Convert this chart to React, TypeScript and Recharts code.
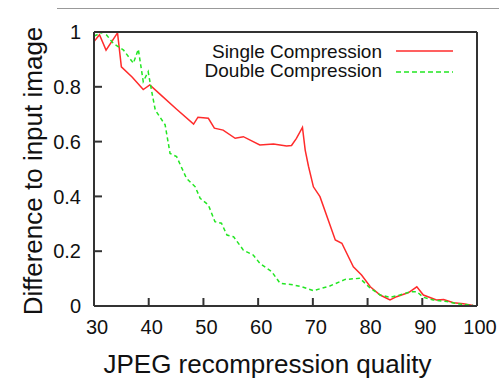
import React from "react";
import { LineChart, Line, XAxis, YAxis, Legend } from "recharts";

const singleQ = [30, 31, 32.2, 34.3, 35, 37, 39, 40.2, 42, 45, 48.2, 49, 50.9, 52, 53.6, 55.8, 57.3, 60.3, 62.8, 65.2, 66.1, 67, 68.1, 68.6, 69.2, 70.1, 71.3, 74.1, 75.3, 77.4, 78.9, 80.5, 82.3, 84.1, 85.3, 87.5, 89, 90.2, 92.6, 93.9, 95.7, 97.5, 99.3];
const singleV = [0.965, 0.99, 0.934, 0.997, 0.873, 0.835, 0.79, 0.807, 0.774, 0.72, 0.664, 0.689, 0.685, 0.649, 0.642, 0.612, 0.618, 0.588, 0.591, 0.584, 0.586, 0.612, 0.652, 0.569, 0.51, 0.435, 0.399, 0.241, 0.229, 0.143, 0.113, 0.07, 0.04, 0.022, 0.034, 0.049, 0.07, 0.04, 0.022, 0.024, 0.012, 0.008, 0.002];

const doubleQ = [30, 31.7, 32.3, 33.5, 35.4, 37.2, 38.1, 39, 39.9, 40.5, 41.2, 43, 43.9, 45.1, 46.9, 48.5, 49.4, 50.9, 52.1, 53.3, 54.3, 55.5, 57.3, 59.1, 60.3, 62.5, 64, 66.4, 68, 70.1, 73.1, 75.9, 78.6, 80.5, 82.3, 84.1, 85.9, 87.8, 89, 90.2, 92, 94.5, 96.9, 99.3];
const doubleV = [0.985, 1.0, 0.989, 0.959, 0.934, 0.886, 0.937, 0.819, 0.855, 0.788, 0.715, 0.661, 0.557, 0.545, 0.466, 0.435, 0.393, 0.369, 0.308, 0.302, 0.259, 0.253, 0.204, 0.186, 0.156, 0.125, 0.083, 0.077, 0.07, 0.056, 0.073, 0.097, 0.101, 0.065, 0.04, 0.032, 0.04, 0.052, 0.052, 0.032, 0.022, 0.016, 0.007, 0.002];

const xTicks = [30, 40, 50, 60, 70, 80, 90, 100];
const yTicks = [0, 0.2, 0.4, 0.6, 0.8, 1];

const singleData = singleQ.map((q, i) => ({ q, v: singleV[i] }));
const doubleData = doubleQ.map((q, i) => ({ q, v: doubleV[i] }));

const font = "'Liberation Sans', Arial, Helvetica, sans-serif";
const frame = "#333";
const red = "#ff2b2b";
const green = "#22e622";
const tickText = { fontSize: 20, fill: "#111", fontFamily: font };
const noTick = () => <g />;

const LegendBox = () => (
  <svg width={499} height={90} style={{ display: "block" }}>
    <text x={382} y={58} textAnchor="end" fontSize={19} fontFamily={font} fill="#111">Single Compression</text>
    <line x1={396} x2={453} y1={51} y2={51} stroke={red} strokeWidth={1.5} />
    <text x={382} y={77} textAnchor="end" fontSize={19} fontFamily={font} fill="#111">Double Compression</text>
    <line x1={396} x2={453} y1={72} y2={72} stroke={green} strokeWidth={1.5} strokeDasharray="5 3" />
  </svg>
);

export default function App() {
  return (
    <div style={{ position: "absolute", left: 0, top: 0, width: 499, height: 378, background: "#fff" }}>
      <div style={{ position: "absolute", left: 57, top: 8, width: 442, height: 1, background: "#999" }} />
      <LineChart width={499} height={378} margin={{ top: 31, right: 21, bottom: 0, left: 0 }}>
        <XAxis
          dataKey="q"
          type="number"
          domain={[30, 100]}
          ticks={xTicks}
          allowDataOverflow
          height={72}
          tickSize={-8}
          tickMargin={22}
          dx={3}
          tick={tickText}
          stroke={frame}
          strokeWidth={2}
          label={{
            content: ({ viewBox }: any) => (
              <text x={viewBox.x + viewBox.width / 2 - 18} y={373} textAnchor="middle" fontSize={26} fontFamily={font} fill="#111">
                JPEG recompression quality
              </text>
            ),
          }}
        />
        <XAxis xAxisId="top" orientation="top" dataKey="q" type="number" domain={[30, 100]} ticks={xTicks} height={1} tickSize={-8} tick={noTick} stroke={frame} strokeWidth={2} />
        <YAxis
          dataKey="v"
          type="number"
          domain={[0, 1]}
          ticks={yTicks}
          width={94}
          tickSize={-8}
          tickMargin={21}
          tick={tickText}
          stroke={frame}
          strokeWidth={2}
          label={{
            content: ({ viewBox }: any) => {
              const cx = 33;
              const cy = viewBox.y + viewBox.height / 2 + 2;
              return (
                <text x={cx} y={cy} transform={`rotate(-90 ${cx} ${cy})`} textAnchor="middle" dominantBaseline="central" fontSize={26} fontFamily={font} fill="#111">
                  Difference to input image
                </text>
              );
            },
          }}
        />
        <YAxis yAxisId="right" orientation="right" dataKey="v" type="number" domain={[0, 1]} ticks={yTicks} width={1} tickSize={-8} tick={noTick} stroke={frame} strokeWidth={2} />
        <Legend layout="vertical" align="center" verticalAlign="middle" wrapperStyle={{ left: 0, top: 0, width: 499, height: 90 }} content={() => <LegendBox />} />
        <Line data={singleData} dataKey="v" name="Single Compression" type="linear" stroke={red} strokeWidth={1.5} dot={false} isAnimationActive={false} />
        <Line data={doubleData} dataKey="v" name="Double Compression" type="linear" stroke={green} strokeWidth={1.5} strokeDasharray="4 3" dot={false} isAnimationActive={false} />
      </LineChart>
    </div>
  );
}
